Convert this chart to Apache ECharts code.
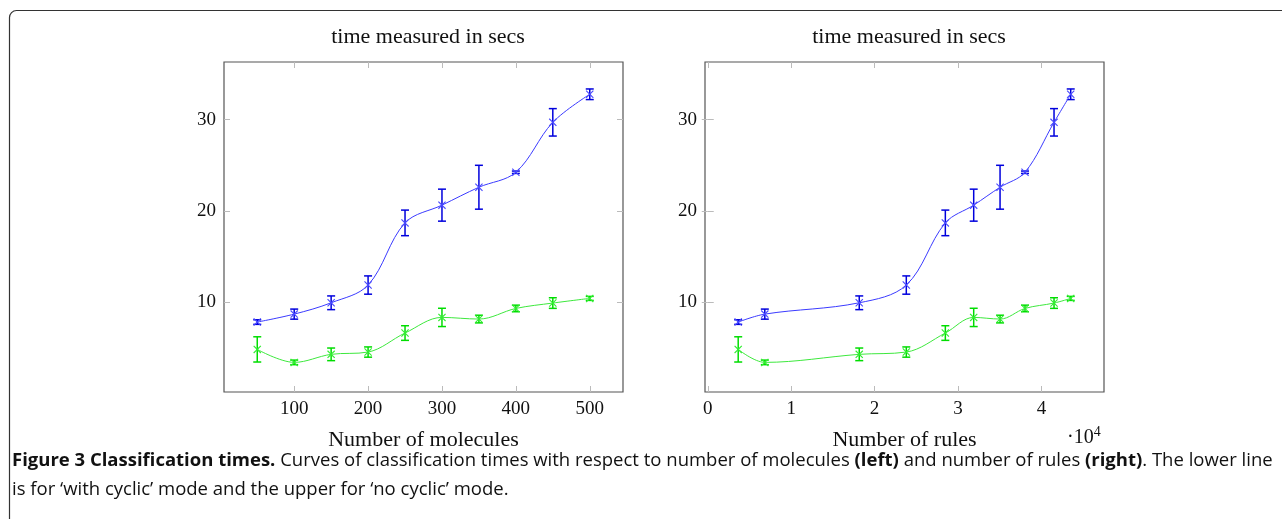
<!DOCTYPE html>
<html>
<head>
<meta charset="utf-8">
<script src="https://cdn.jsdelivr.net/npm/echarts@6/dist/echarts.min.js"></script>
<style>
html,body{margin:0;padding:0;background:#fff;}
#c{width:1282px;height:519px;}
</style>
</head>
<body>
<div id="c"></div>
<script>
// ---- data ----
const molecules = [50, 100, 150, 200, 250, 300, 350, 400, 450, 500];
const rules = [0.365, 0.684, 1.816, 2.380, 2.848, 3.188, 3.504, 3.803, 4.151, 4.351]; // x 10^4
const noCyclic = [7.85, 8.72, 9.96, 11.9, 18.7, 20.64, 22.6, 24.24, 29.7, 32.77];
const noCyclicErr = [0.25, 0.55, 0.75, 1.0, 1.4, 1.75, 2.4, 0.13, 1.5, 0.58];
const withCyclic = [4.86, 3.44, 4.32, 4.57, 6.65, 8.36, 8.18, 9.34, 9.93, 10.44];
const withCyclicErr = [1.38, 0.25, 0.69, 0.56, 0.8, 1.0, 0.42, 0.36, 0.58, 0.22];
const yTicks = [10, 20, 30];
const xTicksLeft = [100, 200, 300, 400, 500];
const xTicksRight = [0, 1, 2, 3, 4];
const plotTitle = 'time measured in secs';
const xNameLeft = 'Number of molecules';
const xNameRight = 'Number of rules';

const serif = 'Liberation Serif';
const crossPath = 'path://M0,1L1,0L5,4L9,0L10,1L6,5L10,9L9,10L5,6L1,10L0,9L4,5Z';

const chart = echarts.init(document.getElementById('c'), null, {renderer: 'canvas'});

function zip(xs, ys) { return xs.map((x, i) => [x, ys[i]]); }
function zip3(xs, ys, es) { return xs.map((x, i) => [x, ys[i], es[i]]); }

const grids = [
  {left: 224, top: 62, width: 399, height: 330, show: true, borderColor: '#555', borderWidth: 1.2, backgroundColor: 'transparent'},
  {left: 705, top: 62, width: 399, height: 330, show: true, borderColor: '#555', borderWidth: 1.2, backgroundColor: 'transparent'}
];

const tickStyle = {show: true, inside: true, length: 6, lineStyle: {color: '#bbb', width: 1}};

function xAxes(gi, min, max, ticks, name) {
  return [
    {type: 'value', gridIndex: gi, min: min, max: max, position: 'bottom',
     axisLine: {show: false}, splitLine: {show: false},
     axisTick: Object.assign({customValues: ticks}, tickStyle),
     axisLabel: {customValues: ticks, color: '#111', fontFamily: serif, fontSize: 19, margin: 8},
     name: name, nameLocation: 'middle', nameGap: 37,
     nameTextStyle: {color: '#111', fontFamily: serif, fontSize: 22}},
    {type: 'value', gridIndex: gi, min: min, max: max, position: 'top',
     axisLine: {show: false}, splitLine: {show: false},
     axisTick: Object.assign({customValues: ticks}, tickStyle),
     axisLabel: {show: false}}
  ];
}
function yAxes(gi) {
  return [
    {type: 'value', gridIndex: gi, min: 0.2, max: 36.3, position: 'left',
     axisLine: {show: false}, splitLine: {show: false},
     axisTick: Object.assign({customValues: yTicks}, tickStyle),
     axisLabel: {customValues: yTicks, color: '#111', fontFamily: serif, fontSize: 19, margin: 8}},
    {type: 'value', gridIndex: gi, min: 0.2, max: 36.3, position: 'right',
     axisLine: {show: false}, splitLine: {show: false},
     axisTick: Object.assign({customValues: yTicks}, tickStyle),
     axisLabel: {show: false}}
  ];
}

function lineSeries(xi, yi, xs, ys, color, mcolor) {
  return {type: 'line', xAxisIndex: xi, yAxisIndex: yi, data: zip(xs, ys), smooth: 0.35,
    lineStyle: {color: color, width: 1}, symbol: crossPath, symbolSize: 8,
    itemStyle: {color: mcolor}, z: 3, silent: true, animation: false};
}
function errSeries(xi, yi, xs, ys, es, color) {
  return {type: 'custom', xAxisIndex: xi, yAxisIndex: yi, data: zip3(xs, ys, es), z: 2,
    silent: true, animation: false,
    renderItem: function (params, api) {
      const x = api.value(0), y = api.value(1), e = api.value(2);
      const lo = api.coord([x, y - e]);
      const hi = api.coord([x, y + e]);
      const w = 4;
      const st = {stroke: color, lineWidth: 1.5};
      return {type: 'group', children: [
        {type: 'line', shape: {x1: lo[0], y1: lo[1], x2: hi[0], y2: hi[1]}, style: st},
        {type: 'line', shape: {x1: lo[0] - w, y1: lo[1], x2: lo[0] + w, y2: lo[1]}, style: st},
        {type: 'line', shape: {x1: hi[0] - w, y1: hi[1], x2: hi[0] + w, y2: hi[1]}, style: st}
      ]};
    }};
}

const blueLine = '#3a3aff', blueErr = '#0000dd', blueMark = '#4a4aff';
const greenLine = '#3de83d', greenErr = '#00dd00', greenMark = '#33ee33';

const option = {
  animation: false,
  grid: grids,
  xAxis: [].concat(xAxes(0, 5, 545, xTicksLeft, xNameLeft), xAxes(1, -0.033, 4.75, xTicksRight, xNameRight)),
  yAxis: [].concat(yAxes(0), yAxes(1)),
  title: [
    {text: plotTitle, left: 423, top: 21, textAlign: 'center', textStyle: {fontFamily: serif, fontSize: 22, fontWeight: 'normal', color: '#111'}},
    {text: plotTitle, left: 904, top: 21, textAlign: 'center', textStyle: {fontFamily: serif, fontSize: 22, fontWeight: 'normal', color: '#111'}}
  ],
  series: [
    errSeries(0, 0, molecules, noCyclic, noCyclicErr, blueErr),
    errSeries(0, 0, molecules, withCyclic, withCyclicErr, greenErr),
    lineSeries(0, 0, molecules, noCyclic, blueLine, blueMark),
    lineSeries(0, 0, molecules, withCyclic, greenLine, greenMark),
    errSeries(2, 2, rules, noCyclic, noCyclicErr, blueErr),
    errSeries(2, 2, rules, withCyclic, withCyclicErr, greenErr),
    lineSeries(2, 2, rules, noCyclic, blueLine, blueMark),
    lineSeries(2, 2, rules, withCyclic, greenLine, greenMark)
  ],
  graphic: [
    {type: 'rect', shape: {x: 9.5, y: 10.5, width: 1400, height: 700, r: 7},
     style: {fill: 'none', stroke: '#333', lineWidth: 1.2}, silent: true},
    {type: 'text', x: 1067, y: 425, style: {
      text: '{a|·10}{b|4}', rich: {
        a: {fontFamily: serif, fontSize: 20, fill: '#111', verticalAlign: 'bottom'},
        b: {fontFamily: serif, fontSize: 14, fill: '#111', verticalAlign: 'top', padding: [0, 0, 9, 0]}
      }}},
    {type: 'text', x: 12, y: 451, style: {
      text: '{b|Figure 3 Classification times.}{n| Curves of classification times with respect to number of molecules }{b|(left)}{n| and number of rules }{b|(right)}{n|. The lower line}',
      rich: {
        b: {fontFamily: 'Open Sans', fontWeight: 'bold', fontSize: 18.5, fill: '#111'},
        n: {fontFamily: 'Open Sans', fontSize: 18.5, fill: '#111'}
      }}},
    {type: 'text', x: 12, y: 480, style: {
      text: 'is for \u2018with cyclic\u2019 mode and the upper for \u2018no cyclic\u2019 mode.',
      fontFamily: 'Open Sans', fontSize: 18.5, fill: '#111'}}
  ]
};
chart.setOption(option);
</script>
</body>
</html>
